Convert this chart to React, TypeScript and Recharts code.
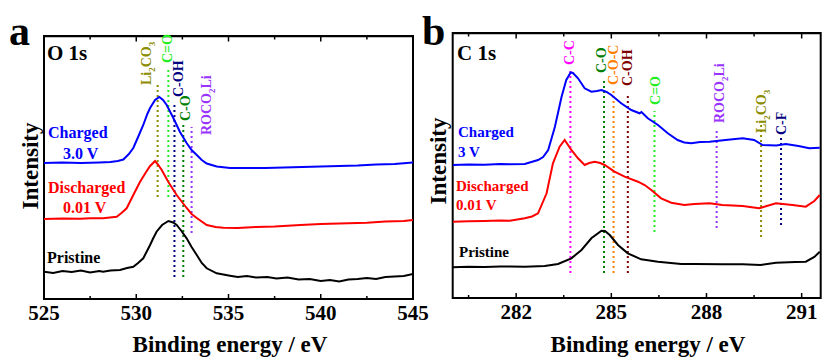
import { LineChart, Line, XAxis, YAxis, ReferenceLine, ReferenceArea } from 'recharts';

// ---- O 1s panel (binding energy eV, intensity a.u.) ----
const oTicksMajor = [525, 530, 535, 540, 545];
const oTicksMinor = [527.5, 532.5, 537.5, 542.5];

const oCharged: [number, number][] = [
  [525, 136], [526, 136.5], [527, 136], [528, 136.5], [528.6, 137], [529.0, 138], [529.3, 139.5],
  [529.6, 145], [529.84, 151], [530.1, 162], [530.38, 174], [530.6, 185], [530.75, 191], [531.02, 199],
  [531.25, 202], [531.45, 199], [531.65, 194], [532.01, 181], [532.37, 167], [532.73, 156], [533.0, 149],
  [533.28, 144], [533.55, 139], [533.82, 135.5], [534.36, 132.5], [535.08, 131], [536, 131], [537, 131],
  [538, 131.5], [539, 132], [540, 132.5], [541, 133], [542, 133.5], [543, 134.5], [544, 135], [545, 136.5],
];

const oDischarged: [number, number][] = [
  [525, 80], [526, 80.5], [527, 80.3], [527.5, 80.7], [528.2, 80.7], [528.94, 82.3], [529.2, 86],
  [529.48, 90.7], [529.84, 104], [530.2, 117], [530.5, 126], [530.75, 133], [531.02, 138], [531.2, 134],
  [531.38, 129], [531.74, 117], [532.19, 104], [532.73, 91], [533.0, 85], [533.28, 81], [533.82, 74],
  [534.3, 72], [534.72, 71.3], [535.5, 71], [536.5, 72], [537.5, 72.5], [538.9, 74], [540, 75],
  [541, 75.5], [542.5, 76.3], [543.5, 77.5], [544.5, 78], [545, 79],
];

const oPristine: [number, number][] = [
  [525, 27.3], [525.5, 26], [526, 28], [526.5, 27], [527, 28.5], [527.5, 26.5], [528, 28], [528.2, 27.3],
  [528.6, 28.5], [529.12, 29], [529.5, 31], [529.84, 32.3], [530.1, 36], [530.38, 40.7], [530.75, 54],
  [530.9, 60], [531.1, 67.3], [531.4, 74], [531.74, 78], [532.0, 76.5], [532.19, 74], [532.45, 68],
  [532.73, 60.7], [533.0, 52], [533.28, 44], [533.55, 36], [533.82, 30.7], [534.36, 25.7], [535.08, 23.3],
  [535.5, 22], [536, 23], [536.5, 21.5], [537.1, 22], [537.6, 20.5], [538.2, 21.5], [538.8, 19.5],
  [539.4, 20], [540, 18], [540.5, 19], [541, 17.5], [541.5, 19.5], [542, 20], [542.5, 21], [543, 20],
  [543.5, 22], [544, 22.5], [544.5, 23], [545, 25],
];

const oMarkers = [
  { label: 'Li_2CO_3', e: 531.16, from: 102, to: 214 },
  { label: 'C=O', e: 531.74, from: 102, to: 232 },
  { label: 'C-OH', e: 532.07, from: 22, to: 197 },
  { label: 'C-O', e: 532.55, from: 22, to: 176 },
  { label: 'ROCO_2Li', e: 533.0, from: 66, to: 172 },
];

// ---- C 1s panel ----
const cTicksMajor = [282, 285, 288, 291];
const cTicksMinor = [280.5, 283.5, 286.5, 289.5];

const cCharged: [number, number][] = [
  [280, 133], [280.5, 133.5], [281, 133.3], [281.5, 134], [281.8, 133.7], [282.27, 134], [282.69, 138],
  [282.85, 141], [283.01, 148], [283.22, 171], [283.43, 201], [283.58, 218], [283.72, 225.5], [283.79, 225],
  [283.95, 219.7], [284.16, 209.7], [284.37, 206.3], [284.55, 207], [284.69, 208], [284.85, 206],
  [285.0, 203], [285.31, 194.7], [285.63, 188], [285.89, 184.7], [285.95, 186], [286.15, 179.7],
  [286.47, 173], [286.78, 164.7], [287.09, 158], [287.3, 155.5], [287.52, 154.7], [287.8, 156],
  [288.1, 156.3], [288.6, 158], [289.14, 159.7], [289.5, 158], [289.77, 153], [290.2, 152.5],
  [290.5, 154], [290.9, 152], [291.24, 149.7], [291.57, 150.3],
];

const cDischarged: [number, number][] = [
  [280, 76.3], [280.5, 76.8], [281, 77], [281.5, 77.5], [281.8, 77.3], [282.27, 79.7], [282.5, 81.5],
  [282.69, 84.7], [282.96, 104.7], [283.16, 134.7], [283.37, 151.3], [283.53, 158], [283.74, 148],
  [283.95, 139.7], [284.16, 133], [284.3, 135], [284.48, 136.3], [284.65, 135], [284.79, 133],
  [285.1, 126.3], [285.42, 121.3], [285.84, 116.3], [286.05, 113], [286.26, 108], [286.57, 99.7],
  [286.89, 95.3], [287.3, 93], [287.62, 94], [288.1, 94.7], [288.5, 93], [289.14, 92], [289.66, 89.7],
  [289.9, 92], [290.19, 94.7], [290.71, 93], [291.13, 91.3], [291.4, 97], [291.57, 103],
];

const cPristine: [number, number][] = [
  [280, 30.7], [280.5, 31.2], [281, 31], [281.5, 31.6], [281.8, 31.5], [282.27, 31.3], [282.9, 32],
  [283.32, 34], [283.74, 39.7], [284.06, 48], [284.37, 59.7], [284.69, 67.3], [284.8, 67], [284.95, 63],
  [285.21, 53], [285.52, 44.7], [285.94, 38.7], [286.47, 36.3], [287.2, 34], [287.62, 34], [288.5, 33.7],
  [289.14, 33.7], [289.7, 33], [290.19, 35.3], [290.8, 36], [291.13, 36.3], [291.4, 41], [291.57, 46.3],
];

const cMarkers = [
  { label: 'C-C', e: 283.71, from: 25, to: 227 },
  { label: 'C-O', e: 284.77, from: 25, to: 217 },
  { label: 'C-O-C', e: 285.07, from: 25, to: 210 },
  { label: 'C-OH', e: 285.52, from: 25, to: 205 },
  { label: 'C=O', e: 286.36, from: 66, to: 187 },
  { label: 'ROCO_2Li', e: 288.32, from: 70, to: 168 },
  { label: 'Li_2CO_3', e: 289.72, from: 61, to: 173 },
  { label: 'C-F', e: 290.35, from: 73, to: 161 },
];

// marker colours and label offsets (px from top of dotted line)
const oMarkerStyle = [
  { color: '#8c8c00', dx: -12, dy: 0 },
  { color: '#22ee22', dx: -1, dy: -4 },
  { color: '#000080', dx: 4, dy: -5 },
  { color: '#008000', dx: 2, dy: -2 },
  { color: '#9933ff', dx: 14, dy: 8 },
];
const cMarkerStyle = [
  { color: '#ff00ff', dx: -1, dy: -6 },
  { color: '#008000', dx: -3, dy: -8 },
  { color: '#ff8000', dx: -1, dy: -3 },
  { color: '#800000', dx: -1, dy: -7 },
  { color: '#22ee22', dx: 1, dy: -6 },
  { color: '#9933ff', dx: 2, dy: -7 },
  { color: '#8c8c00', dx: 0, dy: 8 },
  { color: '#000080', dx: 0, dy: -2 },
];

const FONT = "'Liberation Serif', 'Times New Roman', serif";
const toPts = (arr: [number, number][]) => arr.map(([e, v]) => ({ e, v }));

const MarkerLabel = ({ viewBox, text, color, dx, dy }: any) => {
  if (!viewBox) return null;
  const parts = text.split(/(_\d)/).filter(Boolean);
  return (
    <text
      transform={`translate(${viewBox.x + dx + 5},${viewBox.y + dy}) rotate(-90)`}
      fill={color}
      fontSize={14}
      fontWeight="bold"
      fontFamily={FONT}
    >
      {parts.map((p: string, i: number) =>
        p.startsWith('_') ? (
          <tspan key={i} fontSize={9} dy={4}>{p.slice(1)}</tspan>
        ) : (
          <tspan key={i} dy={i > 0 ? -4 : 0}>{p}</tspan>
        )
      )}
    </text>
  );
};

// bottom axis tick: inward tick mark, label only on major values
const BottomTick = ({ x, y, payload, majors }: any) => {
  const major = majors.includes(payload.value);
  return (
    <g>
      <line x1={x} x2={x} y1={y} y2={y - (major ? 5 : 3)} stroke="#000" strokeWidth={1.5} />
      {major && (
        <text x={x} y={y + 21} textAnchor="middle" fontSize={21} fontWeight="bold" fontFamily={FONT} fill="#000">
          {payload.value}
        </text>
      )}
    </g>
  );
};

interface PanelProps {
  width: number;
  margin: { top: number; right: number; bottom: number; left: number };
  domain: [number, number];
  yMax: number;
  majors: number[];
  minors: number[];
  charged: [number, number][];
  discharged: [number, number][];
  pristine: [number, number][];
  markers: { label: string; e: number; from: number; to: number }[];
  markerStyle: { color: string; dx: number; dy: number }[];
}

const Panel = (p: PanelProps) => {
  const ticks = [...p.majors, ...p.minors].sort((a, b) => a - b);
  const axisLine = { stroke: '#000', strokeWidth: 2 };
  // tick length on the top frame, in intensity units (1 unit is about 1 px here)
  const topTick = (t: number) => (p.majors.includes(t) ? 5 : 3);
  const top = p.yMax - 0.5;
  return (
    <LineChart width={p.width} height={358} margin={p.margin}>
      <XAxis
        type="number"
        dataKey="e"
        domain={p.domain}
        allowDataOverflow
        ticks={ticks}
        interval={0}
        height={30}
        tickSize={0}
        tickMargin={0}
        tickLine={false}
        axisLine={axisLine}
        tick={<BottomTick majors={p.majors} />}
      />
      <YAxis type="number" domain={[0, p.yMax]} allowDataOverflow width={0} tick={false} tickLine={false} axisLine={axisLine} />
      <YAxis yAxisId="right" orientation="right" type="number" domain={[0, p.yMax]} width={0} tick={false} tickLine={false} axisLine={axisLine} />

      {/* frame box and top ticks */}
      <ReferenceArea
        x1={p.domain[0]}
        x2={p.domain[1]}
        y1={0}
        y2={p.yMax}
        fill="none"
        fillOpacity={0}
        stroke="#000"
        strokeWidth={2}
        ifOverflow="visible"
      />
      <ReferenceLine y={top} stroke="#000" strokeWidth={1.5} />
      {ticks.map((t) => (
        <ReferenceLine
          key={'top' + t}
          segment={[{ x: t, y: top }, { x: t, y: top - topTick(t) }]}
          stroke="#000"
          strokeWidth={1.5}
        />
      ))}

      {p.markers.map((m, i) => (
        <ReferenceLine
          key={m.label + i}
          segment={[{ x: m.e, y: m.from }, { x: m.e, y: m.to }]}
          stroke={p.markerStyle[i].color}
          strokeWidth={2}
          strokeDasharray="2 3"
          label={<MarkerLabel text={m.label} color={p.markerStyle[i].color} dx={p.markerStyle[i].dx} dy={p.markerStyle[i].dy} />}
        />
      ))}

      <Line data={toPts(p.charged)} dataKey="v" stroke="#0000ff" strokeWidth={2} dot={false} isAnimationActive={false} />
      <Line data={toPts(p.discharged)} dataKey="v" stroke="#ff0000" strokeWidth={2} dot={false} isAnimationActive={false} />
      <Line data={toPts(p.pristine)} dataKey="v" stroke="#000000" strokeWidth={2} dot={false} isAnimationActive={false} />
    </LineChart>
  );
};

const T = ({ x, y, size, color = '#000', children, anchor = 'start' }: any) => (
  <text x={x} y={y} fontSize={size} fill={color} fontWeight="bold" fontFamily={FONT} textAnchor={anchor}>
    {children}
  </text>
);

const App = () => (
  <div style={{ position: 'absolute', left: 0, top: 0, width: 822, height: 358, background: '#fff' }}>
    <div style={{ position: 'absolute', left: 0, top: 0 }}>
      <Panel
        width={440}
        margin={{ top: 36, right: 27, bottom: 29, left: 44 }}
        domain={[525, 545]}
        yMax={263}
        majors={oTicksMajor}
        minors={oTicksMinor}
        charged={oCharged}
        discharged={oDischarged}
        pristine={oPristine}
        markers={oMarkers}
        markerStyle={oMarkerStyle}
      />
    </div>
    <div style={{ position: 'absolute', left: 420, top: 0 }}>
      <Panel
        width={402}
        margin={{ top: 33, right: 1.3, bottom: 30, left: 32.7 }}
        domain={[280, 291.6]}
        yMax={265}
        majors={cTicksMajor}
        minors={cTicksMinor}
        charged={cCharged}
        discharged={cDischarged}
        pristine={cPristine}
        markers={cMarkers}
        markerStyle={cMarkerStyle}
      />
    </div>
    <svg width={822} height={358} style={{ position: 'absolute', left: 0, top: 0, pointerEvents: 'none' }}>
      <T x={9} y={45} size={42}>a</T>
      <T x={422} y={45} size={42}>b</T>
      <T x={47} y={60} size={21}>O 1s</T>
      <T x={457} y={60} size={21}>C 1s</T>

      <T x={48} y={138} size={16} color="#0000ff">Charged</T>
      <T x={63} y={159} size={16} color="#0000ff">3.0 V</T>
      <T x={48} y={193} size={16} color="#ff0000">Discharged</T>
      <T x={63} y={213} size={16} color="#ff0000">0.01 V</T>
      <T x={47} y={263} size={16}>Pristine</T>

      <T x={458} y={137} size={15} color="#0000ff">Charged</T>
      <T x={458} y={157} size={15} color="#0000ff">3 V</T>
      <T x={456} y={191} size={15} color="#ff0000">Discharged</T>
      <T x={456} y={210} size={15} color="#ff0000">0.01 V</T>
      <T x={459} y={257} size={15}>Pristine</T>

      <T x={230} y={352} size={23} anchor="middle">Binding energy / eV</T>
      <T x={648} y={352} size={23} anchor="middle">Binding energy / eV</T>
      <g transform="translate(38,166) rotate(-90)">
        <T x={0} y={0} size={23} anchor="middle">Intensity</T>
      </g>
      <g transform="translate(446,161) rotate(-90)">
        <T x={0} y={0} size={23} anchor="middle">Intensity</T>
      </g>
    </svg>
  </div>
);

export default App;
